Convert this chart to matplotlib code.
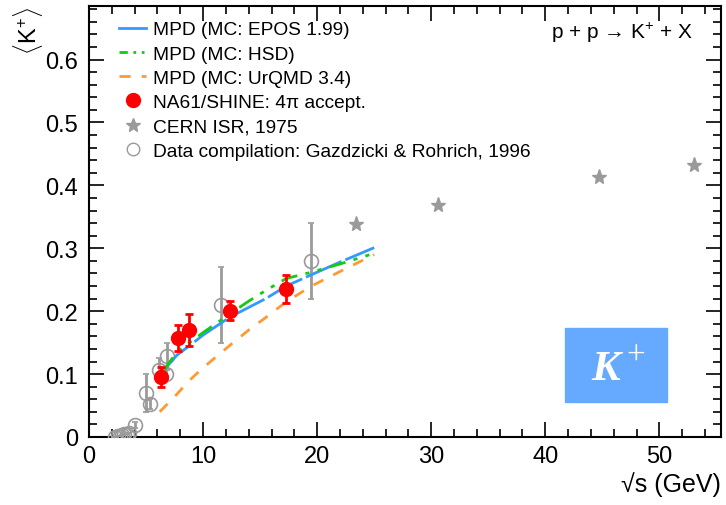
import numpy as np
import matplotlib
matplotlib.use("Agg")
import matplotlib.pyplot as plt
from matplotlib.lines import Line2D

plt.rcParams['font.family'] = ['Liberation Sans', 'DejaVu Sans']
plt.rcParams['mathtext.fontset'] = 'custom'
plt.rcParams['mathtext.rm'] = 'Liberation Sans'
plt.rcParams['mathtext.it'] = 'Liberation Sans:italic'

# MC curves (MPD)
mc_x = [6.5, 7.7, 8.8, 10.0, 12.3, 14.0, 15.5, 17.3, 19.5, 22.0, 25.0]
epos_y = [0.105, 0.130, 0.145, 0.162, 0.190, 0.206, 0.220, 0.240, 0.258, 0.278, 0.301]
hsd_y = [0.105, 0.135, 0.150, 0.166, 0.195, 0.216, 0.233, 0.252, 0.262, 0.275, 0.292]
urqmd_x = [6.2, 7.7, 8.8, 10.0, 12.3, 14.0, 15.5, 17.3, 19.5, 22.0, 25.0]
urqmd_y = [0.040, 0.068, 0.090, 0.110, 0.145, 0.170, 0.190, 0.215, 0.240, 0.263, 0.290]

# NA61/SHINE
na61_x = [6.3, 7.8, 8.8, 12.4, 17.3]
na61_y = [0.096, 0.157, 0.170, 0.201, 0.235]
na61_err = [0.016, 0.021, 0.025, 0.015, 0.022]

# CERN ISR 1975
isr_x = [23.4, 30.6, 44.7, 53.0]
isr_y = [0.338, 0.369, 0.413, 0.432]

# Gazdzicki & Rohrich compilation
gr_x = [2.3, 2.5, 2.7, 2.9, 3.1, 3.3, 3.5, 4.0, 5.0, 5.35, 6.1, 6.75, 6.85, 11.55, 19.5]
gr_y = [0.0005, 0.001, 0.002, 0.003, 0.004, 0.005, 0.007, 0.019, 0.070, 0.053, 0.107, 0.100, 0.128, 0.210, 0.280]
gr_err = [0.0, 0.0, 0.0, 0.0, 0.0, 0.0, 0.0, 0.005, 0.030, 0.008, 0.018, 0.008, 0.022, 0.060, 0.060]

fig = plt.figure(figsize=(7.26, 5.06), dpi=100)
ax = fig.add_axes([0.1226, 0.1344, 0.8705, 0.8516])

grey = '#9a9a9a'
ax.errorbar(gr_x, gr_y, yerr=gr_err, fmt='o', mfc='none', mec=grey, ecolor=grey,
            ms=10, mew=1.2, elinewidth=2, capsize=2, capthick=2, zorder=3)
ax.plot(isr_x, isr_y, '*', color=grey, ms=11, zorder=3)

ax.plot(mc_x, epos_y, '-', color='#3399ff', lw=2, dashes=(14, 1.5), zorder=4)
ax.plot(mc_x, hsd_y, color='#11cc11', lw=2, dashes=(6, 3, 1.5, 3, 1.5, 3), zorder=4)
ax.plot(urqmd_x, urqmd_y, color='#ff9933', lw=2, dashes=(4, 4), zorder=4)

ax.errorbar(na61_x, na61_y, yerr=na61_err, fmt='o', color='#ff0000', ms=10,
            elinewidth=2, capsize=3, capthick=2, zorder=5)

ax.set_xlim(0, 55.4)
ax.set_ylim(0, 0.685)
ax.set_xticks(np.arange(0, 51, 10))
ax.set_xticks(np.arange(0, 55.4, 2), minor=True)
ax.set_yticks(np.arange(0, 0.61, 0.1))
ax.set_yticks(np.arange(0, 0.685, 0.02), minor=True)
ax.set_yticklabels(['0', '0.1', '0.2', '0.3', '0.4', '0.5', '0.6'])
ax.tick_params(which='both', direction='in', top=True, right=True, labelsize=17, width=1.2)
ax.tick_params(which='major', length=11)
ax.tick_params(which='minor', length=5.5)
ax.tick_params(axis='x', pad=6)
ax.tick_params(axis='y', pad=8)
for s in ax.spines.values():
    s.set_linewidth(1.5)

ax.set_xlabel('√s (GeV)', fontsize=18, loc='right', labelpad=3)
ax.set_ylabel(r'$\langle\mathrm{K}^{+}\rangle$', fontsize=17, loc='top', labelpad=0)

handles = [
    Line2D([], [], color='#3399ff', lw=2),
    Line2D([], [], color='#11cc11', lw=2, dashes=(3, 2, 1, 2, 1, 2)),
    Line2D([], [], color='#ff9933', lw=2, dashes=(4, 4)),
    Line2D([], [], ls='none', marker='o', color='#ff0000', ms=10),
    Line2D([], [], ls='none', marker='*', color=grey, ms=10),
    Line2D([], [], ls='none', marker='o', mfc='none', mec=grey, ms=9, mew=1),
]
labels = ['MPD (MC: EPOS 1.99)', 'MPD (MC: HSD)', 'MPD (MC: UrQMD 3.4)',
          'NA61/SHINE: 4π accept.', 'CERN ISR, 1975',
          'Data compilation: Gazdzicki & Rohrich, 1996']
ax.legend(handles, labels, loc='upper left', bbox_to_anchor=(0.027, 0.997),
          frameon=False, fontsize=13.8, handlelength=1.4, handletextpad=0.33,
          labelspacing=0.36, borderaxespad=0.3)

ax.text(0.955, 0.94, 'p + p → K$^{+}$ + X', transform=ax.transAxes,
        ha='right', va='center', fontsize=15)

ax.add_patch(plt.Rectangle((41.7, 0.055), 9.0, 0.1185, color='#66aaff', zorder=2))
ax.text(45.3, 0.108, 'K', color='white', fontsize=31, family='Liberation Serif',
        style='italic', weight='bold', ha='center', va='center', zorder=3)
ax.text(47.9, 0.13, '+', color='white', fontsize=24, family='Liberation Serif',
        ha='center', va='center', zorder=3)

fig.savefig('out.png', dpi=100)
